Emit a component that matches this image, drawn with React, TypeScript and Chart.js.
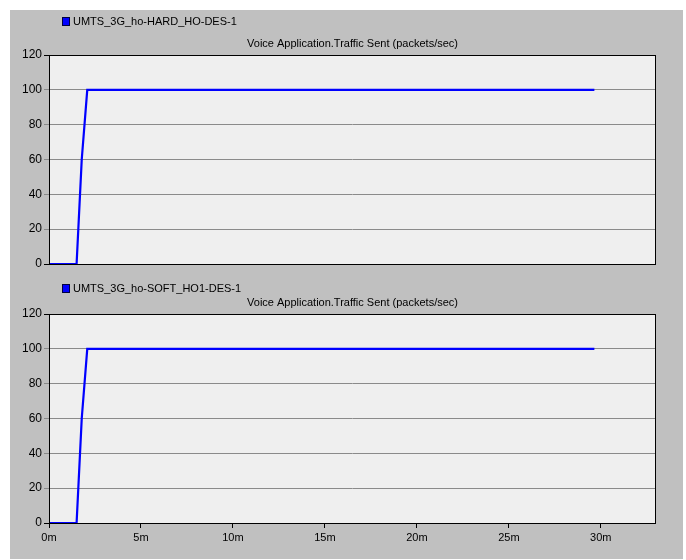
import React, { useEffect, useRef } from "react";
import { Chart, registerables } from "chart.js";

Chart.register(...registerables);

const seriesNames = ["UMTS_3G_ho-HARD_HO-DES-1", "UMTS_3G_ho-SOFT_HO1-DES-1"];
const chartTitle = "Voice Application.Traffic Sent (packets/sec)";
const hardTimes = [0, 1.5, 1.78, 2.08, 29.65];
const hardValues = [0, 0, 60, 100, 100];
const softTimes = [0, 1.5, 1.78, 2.08, 29.65];
const softValues = [0, 0, 60, 100, 100];
const xTicks = [0, 5, 10, 15, 20, 25, 30];
const yTicks = [0, 20, 40, 60, 80, 100, 120];
const xMax = 33;

const FONT = "'Liberation Sans', Arial, sans-serif";

function makeConfig(
  name: string,
  times: number[],
  values: number[],
  showX: boolean,
  legendOffset: number,
  titleOffset: number,
  padTop: number,
  padBottom: number
): any {
  const deco = {
    id: "deco",
    beforeDraw(chart: any) {
      const { ctx, chartArea: a } = chart;
      ctx.save();
      ctx.fillStyle = "#efefef";
      ctx.fillRect(a.left, a.top, a.right - a.left, a.bottom - a.top);
      ctx.restore();
    },
    afterDraw(chart: any) {
      const { ctx, chartArea: a } = chart;
      ctx.save();
      ctx.strokeStyle = "#000";
      ctx.lineWidth = 1;
      ctx.strokeRect(a.left + 0.5, a.top + 0.5, a.right - a.left - 1, a.bottom - a.top);
      // title
      ctx.fillStyle = "#000";
      ctx.font = "11px " + FONT;
      ctx.textAlign = "center";
      ctx.textBaseline = "middle";
      ctx.fillText(chartTitle, (a.left + a.right) / 2, a.top - titleOffset);
      // legend
      const ly = a.top - legendOffset;
      ctx.fillStyle = "#0000ff";
      ctx.fillRect(52, ly - 4, 8, 9);
      ctx.strokeStyle = "#000040";
      ctx.strokeRect(52.5, ly - 3.5, 7, 8);
      ctx.fillStyle = "#000";
      ctx.textAlign = "left";
      ctx.fillText(name, 63, ly + 1);
      ctx.restore();
    },
  };
  return {
    type: "line",
    data: {
      datasets: [
        {
          data: times.map((t, i) => ({ x: t, y: values[i] })),
          borderColor: "#0000ff",
          borderWidth: 2.2,
          pointRadius: 0,
          tension: 0,
          fill: false,
          clip: 4,
        },
      ],
    },
    options: {
      animation: false,
      responsive: false,
      maintainAspectRatio: false,
      layout: { padding: { left: 0, right: 27, top: padTop, bottom: padBottom } },
      plugins: { legend: { display: false }, tooltip: { enabled: false }, title: { display: false } },
      scales: {
        x: {
          type: "linear",
          min: 0,
          max: xMax,
          display: showX,
          afterBuildTicks: (s: any) => {
            s.ticks = xTicks.map((v) => ({ value: v }));
          },
          afterFit: (s: any) => {
            s.height = showX ? 36 : 0;
          },
          border: { display: false },
          grid: { drawOnChartArea: false, drawTicks: true, tickLength: 5, color: "#000" },
          ticks: {
            color: "#000",
            font: { family: FONT, size: 11 },
            padding: 3,
            maxRotation: 0,
            autoSkip: false,
            callback: (v: any) => v + "m",
          },
        },
        y: {
          type: "linear",
          min: 0,
          max: 120,
          afterBuildTicks: (s: any) => {
            s.ticks = yTicks.map((v) => ({ value: v }));
          },
          afterFit: (s: any) => {
            s.width = 39;
          },
          border: { display: false },
          grid: {
            drawTicks: true,
            tickLength: 5,
            color: (c: any) => (c.tick && (c.tick.value === 0 || c.tick.value === 120) ? "#000" : "#8a8a8a"),
          },
          ticks: {
            color: "#000",
            font: { family: FONT, size: 12 },
            padding: 2,
          },
        },
      },
    },
    plugins: [deco],
  };
}

function Panel(props: {
  name: string;
  times: number[];
  values: number[];
  showX: boolean;
  top: number;
  height: number;
  legendOffset: number;
  titleOffset: number;
  padTop: number;
  padBottom: number;
}) {
  const ref = useRef<HTMLCanvasElement>(null);
  useEffect(() => {
    if (!ref.current) return;
    const chart = new Chart(
      ref.current,
      makeConfig(props.name, props.times, props.values, props.showX, props.legendOffset, props.titleOffset, props.padTop, props.padBottom)
    );
    return () => chart.destroy();
  }, []);
  return (
    <canvas
      ref={ref}
      width={673}
      height={props.height}
      style={{ position: "absolute", left: 0, top: props.top, width: 673, height: props.height }}
    />
  );
}

export default function App() {
  return (
    <div
      style={{
        position: "absolute",
        left: 10,
        top: 10,
        width: 673,
        height: 549,
        background: "#c0c0c0",
      }}
    >
      <Panel
        name={seriesNames[0]}
        times={hardTimes}
        values={hardValues}
        showX={false}
        top={0}
        height={265}
        legendOffset={34}
        titleOffset={11}
        padTop={45}
        padBottom={11}
      />
      <Panel
        name={seriesNames[1]}
        times={softTimes}
        values={softValues}
        showX={true}
        top={265}
        height={284}
        legendOffset={26}
        titleOffset={11}
        padTop={39}
        padBottom={0}
      />
    </div>
  );
}
